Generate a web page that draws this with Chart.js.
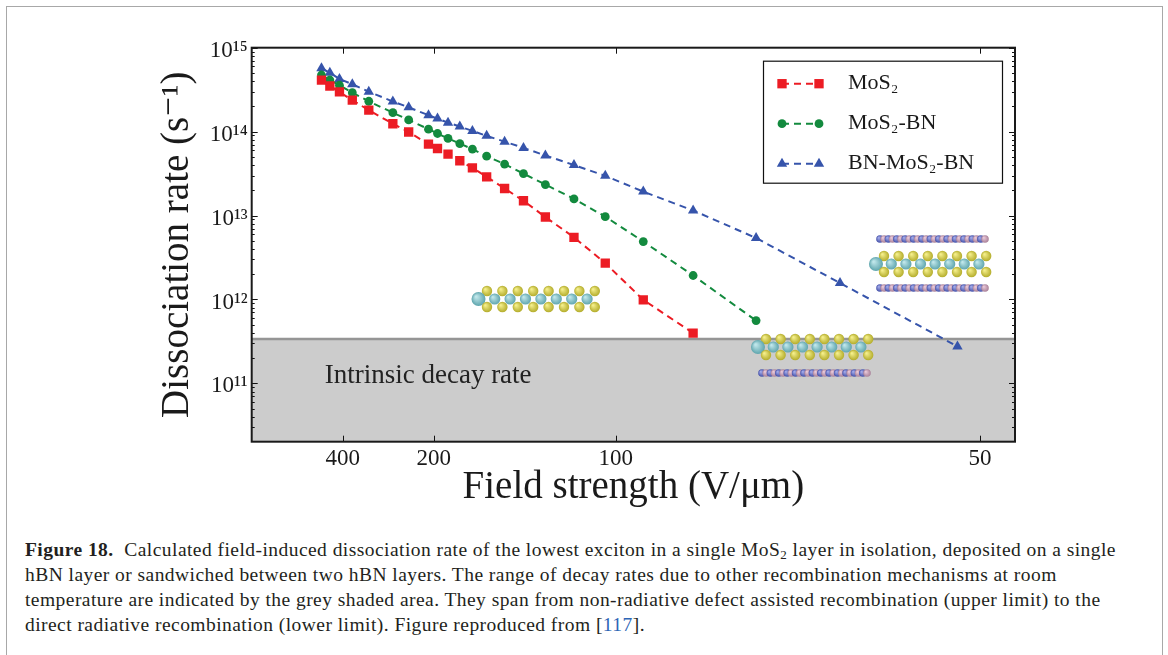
<!DOCTYPE html>
<html>
<head>
<meta charset="utf-8">
<script src="https://cdn.jsdelivr.net/npm/chart.js@4.4.1/dist/chart.umd.min.js"></script>
<style>
    body { margin: 0; background: #fff; width: 1168px; height: 655px; overflow: hidden; position: relative; }
    #frame { position: absolute; left: 6px; top: 6px; width: 1155px; height: 700px; border: 1px solid #a8a8a8; }
    #chartBox { position: absolute; left: 0; top: 0; width: 1168px; height: 520px; }
    #caption { position: absolute; left: 25px; top: 537px; font-family: "Liberation Serif", serif; font-size: 19.5px; letter-spacing: 0.45px; line-height: 25px; color: #231f20; }
    #caption div { white-space: nowrap; height: 25px; }
    #caption sub { font-size: 13px; line-height: 0; vertical-align: -3px; }
    #caption a { color: #2d66b6; text-decoration: none; }
</style>
</head>
<body>
<div id="frame"></div>
<div id="chartBox"><canvas id="rateChart"></canvas></div>
<div id="caption">
    <div><b>Figure 18.</b>&nbsp; Calculated field-induced dissociation rate of the lowest exciton in a single MoS<sub>2</sub> layer in isolation, deposited on a single</div>
    <div>hBN layer or sandwiched between two hBN layers. The range of decay rates due to other recombination mechanisms at room</div>
    <div>temperature are indicated by the grey shaded area. They span from non-radiative defect assisted recombination (upper limit) to the</div>
    <div>direct radiative recombination (lower limit). Figure reproduced from [<a>117</a>].</div>
</div>
<script>
// field strength of each point (V/um)
var fields = [522, 466, 415, 362, 311, 258, 232, 206, 196, 185.5, 175, 165, 155, 144, 134, 124, 113, 103, 93, 82.5, 72.2, 61.9, 51.6];

// dissociation rates (1/s)
var rateMoS2 = [4.1e14, 3.5e14, 2.97e14, 2.37e14, 1.80e14, 1.24e14, 9.9e13, 7.1e13, 6.3e13, 5.4e13,
    4.5e13, 3.7e13, 2.89e13, 2.10e13, 1.50e13, 9.6e12, 5.5e12, 2.71e12, 9.9e11, 3.98e11];
var rateMoS2BN = [4.73e14, 4.12e14, 3.57e14, 2.91e14, 2.30e14, 1.68e14, 1.38e14, 1.07e14, 9.5e13, 8.3e13,
    7.2e13, 6.2e13, 5.1e13, 4.1e13, 3.16e13, 2.34e13, 1.58e13, 9.7e12, 4.9e12, 1.93e12, 5.6e11];
var rateBNMoS2BN = [5.69e14, 5.04e14, 4.24e14, 3.67e14, 2.99e14, 2.28e14, 1.95e14, 1.57e14, 1.43e14, 1.28e14,
    1.15e14, 1.02e14, 8.9e13, 7.6e13, 6.4e13, 5.2e13, 4.0e13, 2.97e13, 1.93e13, 1.15e13, 5.4e12, 1.57e12, 2.76e11];

var seriesLabels = ['MoS\u2082', 'MoS\u2082-BN', 'BN-MoS\u2082-BN'];
var xTickFields = [400, 200, 100, 50];
var yDecades = [11, 12, 13, 14, 15];
var intrinsicRate = 3.37e11;   // top of the grey band

var serif = '"Liberation Serif", "DejaVu Serif", serif';
var sup = '\u2070\u00b9\u00b2\u00b3\u2074\u2075\u2076\u2077\u2078\u2079';

function toPoints(values) {
    return values.map(function(v, i) { return { x: 1 / fields[i], y: v }; });
}

function supNum(n) {
    return String(n).split('').map(function(d) { return sup[+d]; }).join('');
}

// grey band + label + little structure pictures
var backgroundPlugin = {
    id: 'background',
    beforeDatasetsDraw: function(chart) {
        var ctx = chart.ctx, a = chart.chartArea;
        var yTop = chart.scales.y.getPixelForValue(intrinsicRate);
        ctx.save();
        ctx.fillStyle = '#cccccc';
        ctx.fillRect(a.left, yTop, a.right - a.left, a.bottom - yTop);
        ctx.strokeStyle = '#959595';
        ctx.lineWidth = 2.5;
        ctx.beginPath();
        ctx.moveTo(a.left, yTop);
        ctx.lineTo(a.right, yTop);
        ctx.stroke();
        ctx.fillStyle = '#222';
        ctx.font = '27px ' + serif;
        ctx.textBaseline = 'middle';
        ctx.fillText('Intrinsic decay rate', a.left + 73, yTop + 37);

        drawMoS2(ctx, 487, 291, 15.4);
        drawMoS2(ctx, 766, 339, 14.6);
        drawBN(ctx, 762, 373, 26);
        drawBN(ctx, 880, 239, 26);
        drawMoS2(ctx, 884, 256, 14.6);
        drawBN(ctx, 880, 288, 26);
        ctx.restore();
    }
};

function ball(ctx, x, y, r, c1, c2) {
    var g = ctx.createRadialGradient(x - r * 0.35, y - r * 0.35, r * 0.1, x, y, r);
    g.addColorStop(0, c1);
    g.addColorStop(1, c2);
    ctx.fillStyle = g;
    ctx.beginPath();
    ctx.arc(x, y, r, 0, Math.PI * 2);
    ctx.fill();
}

function drawMoS2(ctx, x0, y0, step) {
    var i;
    for (i = 0; i < 8; i++) ball(ctx, x0 + i * step, y0, 5.2, '#f4ee8a', '#b4ad2c');
    for (i = 0; i < 8; i++) ball(ctx, x0 - step * 0.5 + i * step, y0 + 8, 5.6, '#bfe6ea', '#5ea5ad');
    ball(ctx, x0 - step * 0.55, y0 + 8, 7, '#bfe6ea', '#5ea5ad');
    for (i = 0; i < 8; i++) ball(ctx, x0 + i * step, y0 + 16, 5.2, '#f4ee8a', '#b4ad2c');
}

function drawBN(ctx, x0, y0, n) {
    for (var i = 0; i < n; i++) {
        if (i % 2) ball(ctx, x0 + i * 4.2, y0, 3.8, '#e8c8d8', '#a88098');
        else ball(ctx, x0 + i * 4.2, y0, 3.8, '#a0a8e8', '#4450a8');
    }
}

// box, inward ticks on all four sides, legend
var framePlugin = {
    id: 'frame',
    afterDraw: function(chart) {
        var ctx = chart.ctx, a = chart.chartArea;
        var xs = chart.scales.x, ys = chart.scales.y;
        ctx.save();
        ctx.strokeStyle = '#111';
        ctx.lineWidth = 1;
        xs.ticks.forEach(function(t) {
            var px = Math.round(xs.getPixelForValue(t.value)) + 0.5;
            ctx.beginPath();
            ctx.moveTo(px, a.bottom); ctx.lineTo(px, a.bottom - 6);
            ctx.moveTo(px, a.top); ctx.lineTo(px, a.top + 6);
            ctx.stroke();
        });
        ys.ticks.forEach(function(t) {
            var py = Math.round(ys.getPixelForValue(t.value)) + 0.5;
            var len = t.label ? 6 : 3;
            ctx.beginPath();
            ctx.moveTo(a.left, py); ctx.lineTo(a.left + len, py);
            ctx.moveTo(a.right, py); ctx.lineTo(a.right - len, py);
            ctx.stroke();
        });
        ctx.lineWidth = 2;
        ctx.strokeStyle = '#1a1a1a';
        ctx.strokeRect(a.left, a.top, a.right - a.left, a.bottom - a.top);

        // legend
        var lx = a.right - 252, ly = a.top + 13, lw = 239, lh = 122;
        ctx.fillStyle = '#fff';
        ctx.fillRect(lx, ly, lw, lh);
        ctx.lineWidth = 1.2;
        ctx.strokeStyle = '#111';
        ctx.strokeRect(lx + 0.5, ly + 0.5, lw, lh);
        chart.data.datasets.forEach(function(ds, i) {
            var ry = ly + 23 + i * 40;
            ctx.strokeStyle = ds.borderColor;
            ctx.lineWidth = ds.borderWidth;
            ctx.setLineDash(ds.borderDash);
            ctx.beginPath();
            ctx.moveTo(lx + 19, ry); ctx.lineTo(lx + 56, ry);
            ctx.stroke();
            ctx.setLineDash([]);
            [lx + 19, lx + 56].forEach(function(mx) {
                drawMarker(ctx, ds.pointStyle, mx, ry, ds.pointRadius, ds.backgroundColor);
            });
            ctx.fillStyle = '#1a1a1a';
            ctx.font = '22px ' + serif;
            ctx.textBaseline = 'middle';
            ctx.fillText(ds.label, lx + 85, ry);
        });
        ctx.restore();
    }
};

function drawMarker(ctx, style, x, y, r, color) {
    ctx.fillStyle = color;
    ctx.beginPath();
    if (style === 'rect') {
        var s = r * Math.SQRT1_2;
        ctx.rect(x - s, y - s, 2 * s, 2 * s);
    } else if (style === 'triangle') {
        for (var k = 0; k < 3; k++) {
            var ang = k * Math.PI * 2 / 3;
            var px = x + Math.sin(ang) * r, py = y - Math.cos(ang) * r;
            if (k === 0) ctx.moveTo(px, py); else ctx.lineTo(px, py);
        }
        ctx.closePath();
    } else {
        ctx.arc(x, y, r, 0, Math.PI * 2);
    }
    ctx.fill();
}

function makeSeries(label, values, color, style, radius) {
    return {
        label: label,
        data: toPoints(values),
        showLine: true,
        borderColor: color,
        backgroundColor: color,
        borderWidth: 2,
        borderDash: [7, 5],
        pointStyle: style,
        pointRadius: radius,
        pointBorderWidth: 0,
        pointHoverRadius: radius
    };
}

var ctx = document.getElementById('rateChart').getContext('2d');
var rateChart = new Chart(ctx, {
    type: 'scatter',
    data: {
        datasets: [
            makeSeries(seriesLabels[0], rateMoS2, '#ec1c24', 'rect', 6.6),
            makeSeries(seriesLabels[1], rateMoS2BN, '#138a3e', 'circle', 4.4),
            makeSeries(seriesLabels[2], rateBNMoS2BN, '#3654ab', 'triangle', 6)
        ]
    },
    options: {
        responsive: true,
        maintainAspectRatio: false,
        animation: false,
        layout: { padding: { left: 150, right: 153, top: 47.7, bottom: 0 } },
        plugins: {
            legend: { display: false },
            tooltip: { enabled: false }
        },
        scales: {
            x: {
                type: 'linear',
                min: 0,
                max: 0.02096,
                grid: { display: false, drawTicks: false },
                border: { display: false },
                afterBuildTicks: function(scale) {
                    scale.ticks = xTickFields.map(function(f) { return { value: 1 / f }; });
                },
                afterFit: function(scale) { scale.height = 78.3; },
                ticks: {
                    autoSkip: false,
                    maxRotation: 0,
                    padding: 3,
                    color: '#1a1a1a',
                    font: { family: serif, size: 23 },
                    callback: function(value) { return String(Math.round(1 / value)); }
                },
                title: {
                    display: true,
                    text: 'Field strength (V/\u03bcm)',
                    color: '#1a1a1a',
                    font: { family: serif, size: 39 },
                    padding: { top: 0, bottom: 9 }
                }
            },
            y: {
                type: 'logarithmic',
                min: 2.02e10,
                max: 1e15,
                grid: { display: false, drawTicks: false },
                border: { display: false },
                afterBuildTicks: function(scale) {
                    var t = [];
                    for (var e = 10; e <= 15; e++) {
                        for (var m = 1; m <= 9; m++) {
                            var v = m * Math.pow(10, e);
                            if (v >= scale.min && v <= scale.max * 1.0001) t.push({ value: v });
                        }
                    }
                    scale.ticks = t;
                },
                afterFit: function(scale) { scale.width = 101.7; },
                ticks: {
                    autoSkip: false,
                    padding: 4,
                    labelOffset: 3,
                    color: '#1a1a1a',
                    font: { family: serif, size: 23 },
                    callback: function(value) {
                        var e = Math.round(Math.log10(value));
                        if (Math.abs(value / Math.pow(10, e) - 1) < 1e-6 && yDecades.indexOf(e) >= 0) {
                            return '10' + supNum(e);
                        }
                        return '';
                    }
                },
                title: {
                    display: true,
                    text: 'Dissociation rate (s\u207b\u00b9)',
                    color: '#1a1a1a',
                    font: { family: serif, size: 39 },
                    padding: { top: 4.5, bottom: 0 }
                }
            }
        }
    },
    plugins: [backgroundPlugin, framePlugin]
});
</script>
</body>
</html>
